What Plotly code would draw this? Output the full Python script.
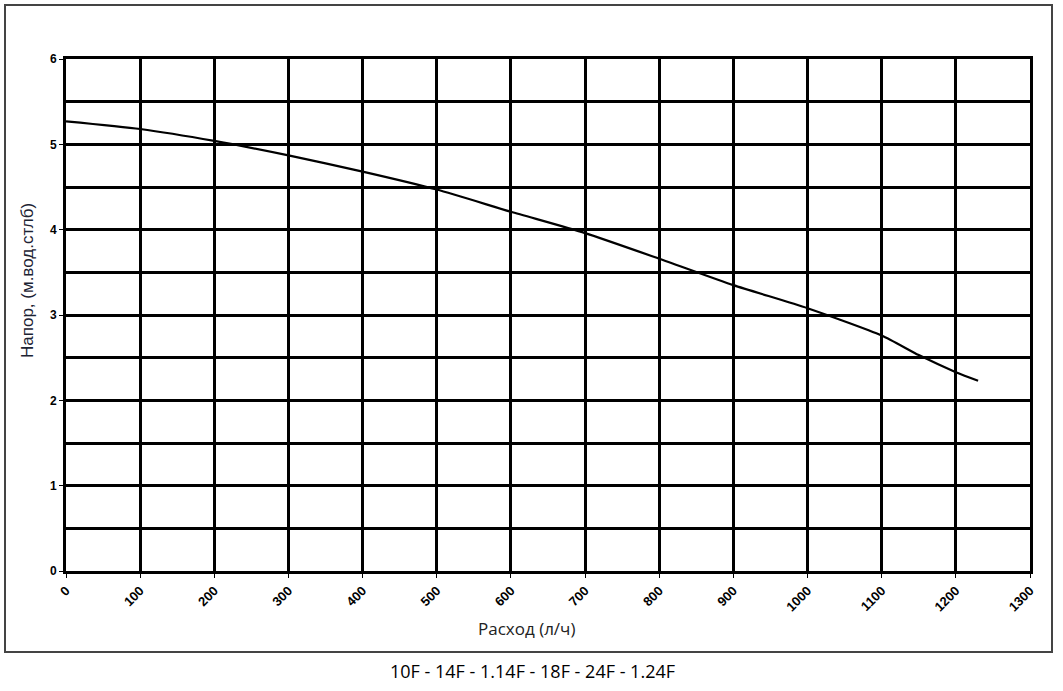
import plotly.graph_objects as go

# pump curve
flow = [0, 100, 200, 300, 400, 500, 600, 700, 800, 900, 1000, 1100, 1150, 1200, 1230]
head = [5.27, 5.18, 5.04, 4.87, 4.68, 4.47, 4.21, 3.96, 3.66, 3.35, 3.08, 2.76, 2.53, 2.33, 2.23]

x_ticks = list(range(0, 1301, 100))
y_ticks = [0, 1, 2, 3, 4, 5, 6]
caption = "10F - 14F - 1.14F - 18F - 24F - 1.24F"

W, H = 1063, 691
L, R, T, B = 66, 33, 59, 120
pw, ph = W - L - R, H - T - B

def px(xp):
    return (xp - L) / pw

def py(yp):
    return (H - B - yp) / ph

fig = go.Figure()

fig.add_trace(go.Scatter(x=flow, y=head, mode='lines',
                         line=dict(color='black', width=2.2, shape='spline', smoothing=0.6),
                         showlegend=False, hoverinfo='skip'))

fig.update_xaxes(range=[0, 1300], tickvals=x_ticks, tickangle=-45,
                 showgrid=True, gridcolor='black', gridwidth=3,
                 zeroline=False, showline=True, linecolor='black', linewidth=3,
                 mirror=True, ticks='outside', ticklen=4, tickcolor='black',
                 tickfont=dict(family='Liberation Sans Narrow, Liberation Sans', size=13,
                               color='black', weight='bold'))

fig.update_yaxes(range=[0, 6], tickvals=y_ticks,
                 showgrid=True, gridcolor='black', gridwidth=3,
                 minor=dict(dtick=0.5, showgrid=True, gridcolor='black', gridwidth=3),
                 zeroline=False, showline=True, linecolor='black', linewidth=3,
                 mirror=True, ticks='outside', ticklen=4, tickcolor='black',
                 tickfont=dict(family='Liberation Sans', size=12, color='black', weight='bold'))

# axis titles placed where the reference has them
fig.add_annotation(text='Расход (л/ч)', xref='paper', yref='paper',
                   x=px(526), y=py(628), xanchor='center', yanchor='middle',
                   showarrow=False,
                   font=dict(family='Open Sans', size=17, color='#222'))
fig.add_annotation(text='Напор, (м.вод.стлб)', xref='paper', yref='paper',
                   x=px(27), y=py(281), xanchor='center', yanchor='middle',
                   showarrow=False, textangle=-90,
                   font=dict(family='Liberation Sans', size=17, color='#1c2333'))

# outer frame around the chart
fig.add_shape(type='rect', xref='paper', yref='paper',
              x0=px(5), x1=px(1052), y0=py(652), y1=py(5),
              line=dict(color='#444', width=2), layer='below')

fig.add_annotation(text=caption, xref='paper', yref='paper',
                   x=px(532), y=py(671), xanchor='center', yanchor='middle',
                   showarrow=False,
                   font=dict(family='Open Sans', size=18, color='black'))

fig.update_layout(width=W, height=H,
                  margin=dict(l=L, r=R, t=T, b=B),
                  plot_bgcolor='white', paper_bgcolor='white')

fig.write_html("out.html", config={'displayModeBar': False},
               post_script="document.body.style.margin='0';")
